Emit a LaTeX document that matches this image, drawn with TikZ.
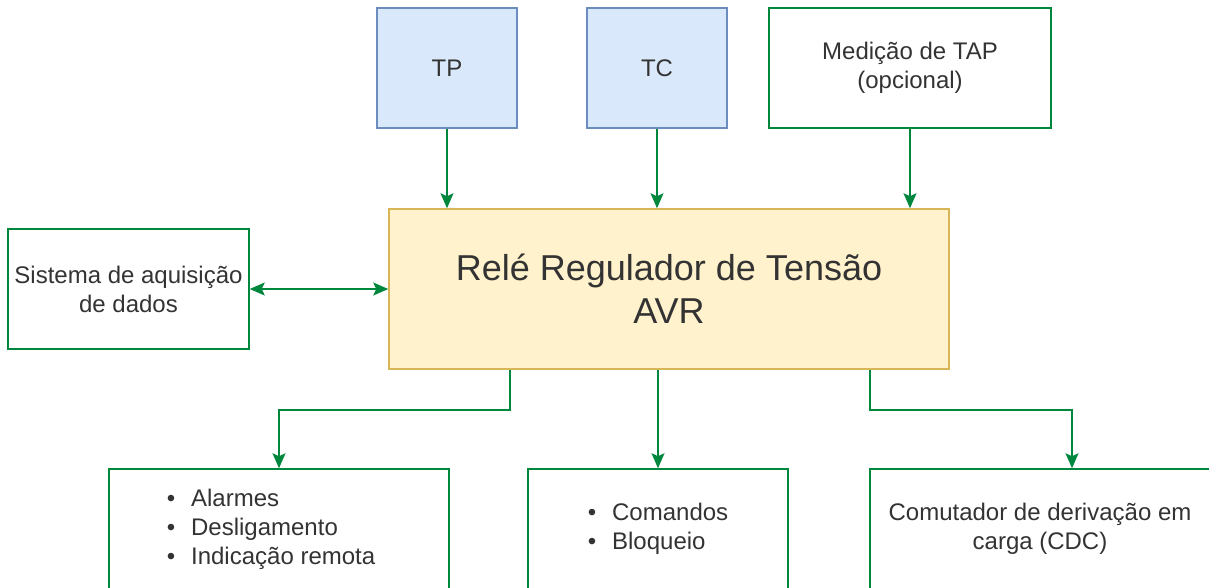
\documentclass[tikz,border=0pt]{standalone}
\usepackage{fontspec}
\setmainfont{Liberation Sans}
\usetikzlibrary{arrows.meta}
\definecolor{edgegreen}{RGB}{0,135,62}
\definecolor{tpfill}{HTML}{DAE8FC}
\definecolor{tpline}{HTML}{6C8EBF}
\definecolor{avrfill}{HTML}{FFF2CC}
\definecolor{avrline}{HTML}{D6B656}
\newcommand{\blt}{\textbullet\hspace{16pt}}

\begin{document}
\begin{tikzpicture}[x=1pt,y=-1pt,
  >={Stealth[length=15pt,width=13pt,inset=3pt]},
  txt/.style={font=\fontsize{24}{29}\selectfont, text=black!80, align=center},
  bluebox/.style={txt, draw=tpline, fill=tpfill, line width=1.5pt, minimum width=140pt, minimum height=120pt},
  greenbox/.style={txt, draw=edgegreen, fill=white, line width=1.5pt, minimum height=120pt},
  yellowbox/.style={draw=avrline, fill=avrfill, line width=1.5pt, minimum width=560pt, minimum height=160pt,
    font=\fontsize{36}{43}\selectfont, text=black!80, align=center},
  flow/.style={draw=edgegreen, line width=1.5pt, ->}]
\useasboundingbox (0,0) rectangle (1209,587);
\clip (0,0) rectangle (1209,587);

\node[bluebox] (tp) at (447,68) {TP};
\node[bluebox] (tc) at (657,68) {TC};
\node[greenbox, minimum width=282pt] (med) at (910,68) {Medição de TAP\\(opcional)};
\node[yellowbox] (avr) at (669,289) {Relé Regulador de Tensão\\AVR};
\node[greenbox, minimum width=241pt] (sis) at (128.5,289) {Sistema de aquisição\\de dados};
\node[greenbox, minimum width=340pt, align=left] (al) at (279,529) {\blt Alarmes\\\blt Desligamento\\\blt Indicação remota\hspace*{16pt}};
\node[greenbox, minimum width=260pt, align=left] (cmd) at (658,529) {\blt Comandos\\\blt Bloqueio};
\node[greenbox, minimum width=340pt] (cdc) at (1040,529) {Comutador de derivação em\\carga (CDC)};

\draw[flow] (tp.south) -- (tp.south |- avr.north);
\draw[flow] (tc.south) -- (tc.south |- avr.north);
\draw[flow] (med.south) -- (med.south |- avr.north);
\draw[flow, <->] (sis.east) -- (avr.west);
\draw[flow] ([xshift=-159pt]avr.south) -- ++(0,40) -| (al.north);
\draw[flow] (avr.south -| cmd.north) -- (cmd.north);
\draw[flow] ([xshift=201pt]avr.south) -- ++(0,40) -| ([xshift=32pt]cdc.north);
\end{tikzpicture}
\end{document}
